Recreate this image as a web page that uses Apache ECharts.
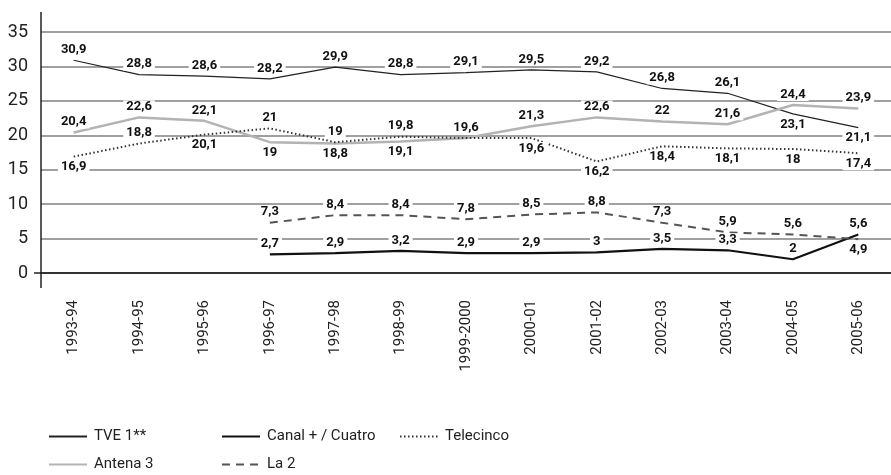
<!DOCTYPE html>
<html>
<head>
<meta charset="utf-8">
<script src="https://cdn.jsdelivr.net/npm/echarts@6/dist/echarts.min.js"></script>
<style>
  html, body { margin: 0; padding: 0; background: #fff; }
  #main { width: 891px; height: 475px; }
</style>
</head>
<body>
<div id="main"></div>
<script>
// temporadas
var seasons = ['1993-94', '1994-95', '1995-96', '1996-97', '1997-98', '1998-99', '1999-2000',
  '2000-01', '2001-02', '2002-03', '2003-04', '2004-05', '2005-06'];

// cuota de pantalla (%)
var tve1 = [30.9, 28.8, 28.6, 28.2, 29.9, 28.8, 29.1, 29.5, 29.2, 26.8, 26.1, 23.1, 21.1];
var antena3 = [20.4, 22.6, 22.1, 19, 18.8, 19.1, 19.6, 21.3, 22.6, 22, 21.6, 24.4, 23.9];
var telecinco = [16.9, 18.8, 20.1, 21, 19, 19.8, 19.6, 19.6, 16.2, 18.4, 18.1, 18, 17.4];
var canalCuatro = [null, null, null, 2.7, 2.9, 3.2, 2.9, 2.9, 3, 3.5, 3.3, 2, 5.6];
var la2 = [null, null, null, 7.3, 8.4, 8.4, 7.8, 8.5, 8.8, 7.3, 5.9, 5.6, 4.9];

var yTicks = [0, 5, 10, 15, 20, 25, 30, 35];

var FONT = "'Liberation Sans Narrow', 'Roboto', sans-serif";

// etiquetas que van debajo del punto / ocultas
function toData(values, below, hidden) {
  below = below || [];
  hidden = hidden || [];
  return values.map(function (v, i) {
    if (v == null) return null;
    return {
      value: v,
      label: {
        show: hidden.indexOf(i) < 0,
        position: below.indexOf(i) >= 0 ? 'bottom' : 'top'
      }
    };
  });
}

var dataLabel = {
  show: true,
  fontFamily: FONT,
  fontWeight: 'bold',
  fontSize: 13,
  color: '#111',
  backgroundColor: '#fff',
  padding: [0, 3],
  distance: 4,
  formatter: function (p) {
    return String(p.value).replace('.', ',');
  }
};

function lineSeries(name, values, lineStyle, below, hidden) {
  return {
    name: name,
    type: 'line',
    data: toData(values, below, hidden),
    symbol: 'circle',
    symbolSize: 0.01,
    showSymbol: true,
    connectNulls: false,
    lineStyle: lineStyle,
    itemStyle: { color: lineStyle.color },
    label: dataLabel,
    labelLayout: { hideOverlap: false },
    z: 3
  };
}

function legendAt(name, left, top) {
  return {
    data: [name],
    left: left,
    top: top,
    itemWidth: 38,
    itemHeight: 10,
    selectedMode: false,
    itemStyle: { opacity: 0 },
    textStyle: { fontFamily: FONT, fontSize: 15, color: '#222', padding: [0, 0, 0, 2] }
  };
}

var chart = echarts.init(document.getElementById('main'));

chart.setOption({
  backgroundColor: '#fff',
  animation: false,
  grid: { left: 41, top: 32, width: 867, height: 241 },
  legend: [
    legendAt('TVE 1**', 43, 424),
    legendAt('Canal + / Cuatro', 216, 424),
    legendAt('Telecinco', 394, 424),
    legendAt('Antena 3', 43, 452),
    legendAt('La 2', 216, 452)
  ],
  xAxis: {
    type: 'category',
    data: seasons,
    boundaryGap: true,
    axisLine: { show: true, lineStyle: { color: '#333', width: 2 } },
    axisTick: { show: false },
    axisLabel: {
      rotate: 90,
      margin: 27,
      fontFamily: FONT,
      fontSize: 15,
      color: '#222',
      interval: 0
    }
  },
  yAxis: {
    type: 'value',
    min: yTicks[0],
    max: yTicks[yTicks.length - 1],
    interval: 5,
    axisLine: { show: false },
    axisTick: { show: false },
    axisLabel: { margin: 13, fontFamily: FONT, fontSize: 18, color: '#222' },
    splitLine: { show: true, lineStyle: { color: '#808080', width: 1.5 } }
  },
  graphic: [
    { type: 'line', shape: { x1: 41, y1: 12, x2: 41, y2: 288 }, style: { stroke: '#222', lineWidth: 1.5 }, z: 10 },
    { type: 'line', shape: { x1: 34, y1: 273, x2: 41, y2: 273 }, style: { stroke: '#222', lineWidth: 1.5 }, z: 10 }
  ],
  series: [
    lineSeries('TVE 1**', tve1, { color: '#222', width: 1.2 }, [11, 12]),
    lineSeries('Antena 3', antena3, { color: '#b3b3b3', width: 2.5 }, [3, 4, 5]),
    lineSeries('Telecinco', telecinco, { color: '#333', width: 2, type: [1.5, 2.5] }, [0, 2, 7, 8, 9, 10, 11, 12], [6]),
    lineSeries('Canal + / Cuatro', canalCuatro, { color: '#111', width: 2.2 }),
    lineSeries('La 2', la2, { color: '#555', width: 2, type: [8, 6] }, [12])
  ]
});
</script>
</body>
</html>
